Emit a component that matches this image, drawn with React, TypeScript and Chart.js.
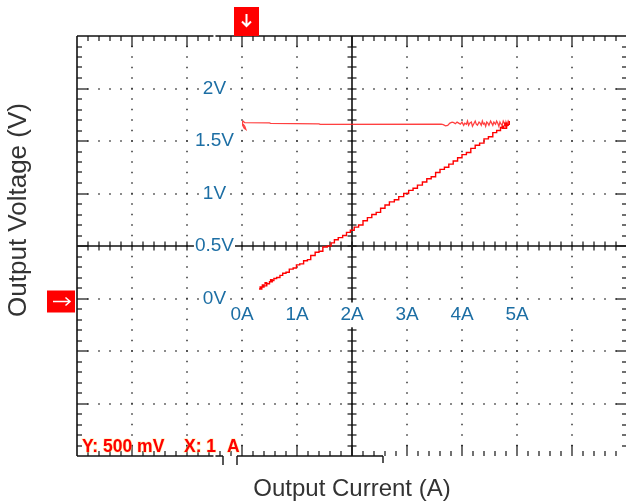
import React, { useEffect, useRef } from 'react';
import { Chart, registerables } from 'chart.js';

Chart.register(...registerables);

// Rising trace (output current in A, output voltage in V)
const riseCurrent = [0.31, 0.36, 0.33, 0.40, 0.37, 0.45, 0.42, 0.50, 0.55, 0.52, 0.58, 0.63, 0.69, 0.74, 0.80, 0.86, 0.93, 0.99, 1.05, 1.12, 1.19, 1.25, 1.33, 1.40, 1.47, 1.55, 1.62, 1.68, 1.75, 1.83, 1.90, 1.97, 2.04, 2.12, 2.20, 2.28, 2.36, 2.44, 2.52, 2.60, 2.68, 2.77, 2.85, 2.94, 3.03, 3.11, 3.19, 3.28, 3.36, 3.44, 3.52, 3.60, 3.68, 3.76, 3.84, 3.92, 4.00, 4.08, 4.16, 4.24, 4.32, 4.40, 4.48, 4.56, 4.63, 4.70, 4.76, 4.73, 4.81, 4.78, 4.84, 4.86];
const riseVoltage = [0.09, 0.10, 0.11, 0.13, 0.12, 0.15, 0.14, 0.16, 0.18, 0.17, 0.19, 0.20, 0.22, 0.24, 0.25, 0.28, 0.29, 0.32, 0.33, 0.36, 0.37, 0.41, 0.44, 0.45, 0.49, 0.50, 0.53, 0.56, 0.58, 0.60, 0.63, 0.65, 0.68, 0.70, 0.74, 0.77, 0.80, 0.82, 0.86, 0.89, 0.92, 0.94, 0.97, 1.00, 1.03, 1.05, 1.08, 1.11, 1.14, 1.16, 1.20, 1.23, 1.25, 1.28, 1.31, 1.34, 1.37, 1.39, 1.43, 1.46, 1.48, 1.52, 1.54, 1.58, 1.60, 1.63, 1.64, 1.62, 1.67, 1.65, 1.66, 1.69];

// Flat return trace
const flatCurrent = [4.86, 4.84, 4.82, 4.80, 4.79, 4.77, 4.75, 4.73, 4.71, 4.69, 4.67, 4.65, 4.63, 4.61, 4.58, 4.56, 4.54, 4.52, 4.49, 4.47, 4.45, 4.43, 4.41, 4.39, 4.37, 4.35, 4.33, 4.31, 4.28, 4.26, 4.24, 4.21, 4.19, 4.17, 4.14, 4.12, 4.10, 4.08, 4.05, 4.03, 4.00, 3.97, 3.94, 3.91, 3.88, 3.85, 3.82, 3.78, 3.74, 3.70, 3.66, 3.62, 1.42, 1.40, 0.52, 0.50, 0.05, 0.02, 0.00, 0.01, 0.04, 0.07, 0.05, 0.02];
const flatVoltage = [1.67, 1.69, 1.65, 1.68, 1.64, 1.67, 1.69, 1.65, 1.66, 1.68, 1.64, 1.67, 1.69, 1.66, 1.68, 1.65, 1.67, 1.69, 1.65, 1.67, 1.68, 1.64, 1.67, 1.66, 1.69, 1.65, 1.67, 1.68, 1.65, 1.66, 1.69, 1.66, 1.64, 1.68, 1.67, 1.65, 1.69, 1.66, 1.67, 1.65, 1.68, 1.66, 1.67, 1.68, 1.665, 1.675, 1.68, 1.67, 1.648, 1.645, 1.655, 1.660, 1.658, 1.663, 1.668, 1.672, 1.675, 1.69, 1.68, 1.65, 1.62, 1.61, 1.64, 1.66];

const xLabeledAmps = [0, 1, 2, 3, 4, 5];
const yLabeledVolts = [0, 0.5, 1, 1.5, 2];
const xMin = -3, xMax = 7, xDiv = 1;
const yMin = -1.5, yMax = 2.5, yDiv = 0.5;
const xCenter = 2, yCenter = 0.5;
const yScaleText = 'Y: 500 mV';
const xScaleText = 'X: 1';
const xUnitText = 'A';
const yTitle = 'Output Voltage (V)';
const xTitle = 'Output Current (A)';

const FONT = '"Liberation Sans", Arial, sans-serif';

const graticule = {
  id: 'graticule',
  beforeDraw(chart: any) {
    const { ctx, scales } = chart;
    const xs = scales.x, ys = scales.y;
    const left = xs.getPixelForValue(xMin), right = xs.getPixelForValue(xMax);
    const top = ys.getPixelForValue(yMax), bottom = ys.getPixelForValue(yMin);
    const nx = Math.round((xMax - xMin) / xDiv);
    const ny = Math.round((yMax - yMin) / yDiv);
    ctx.save();
    // dotted grid
    ctx.fillStyle = '#333';
    for (let i = 1; i < nx; i++) {
      const v = xMin + i * xDiv;
      if (Math.abs(v - xCenter) < 1e-9) continue;
      const px = Math.round(xs.getPixelForValue(v));
      for (let j = 1; j < ny * 5; j++) {
        const py = ys.getPixelForValue(yMin + (j * yDiv) / 5);
        ctx.fillRect(px - 0.75, py - 0.75, 1.5, 1.5);
      }
    }
    for (let j = 1; j < ny; j++) {
      const v = yMin + j * yDiv;
      if (Math.abs(v - yCenter) < 1e-9) continue;
      const py = Math.round(ys.getPixelForValue(v));
      for (let i = 1; i < nx * 5; i++) {
        const px = xs.getPixelForValue(xMin + (i * xDiv) / 5);
        ctx.fillRect(px - 0.75, py - 0.75, 1.5, 1.5);
      }
    }
    const line = (x1: number, y1: number, x2: number, y2: number) => {
      ctx.beginPath();
      ctx.moveTo(x1, y1);
      ctx.lineTo(x2, y2);
      ctx.stroke();
    };
    // center axes
    ctx.strokeStyle = '#111';
    ctx.lineWidth = 1.6;
    const cx = Math.round(xs.getPixelForValue(xCenter));
    const cy = Math.round(ys.getPixelForValue(yCenter));
    line(cx, top, cx, bottom);
    line(left, cy, right, cy);
    ctx.lineWidth = 1.2;
    for (let j = 1; j < ny * 5; j++) {
      const py = Math.round(ys.getPixelForValue(yMin + (j * yDiv) / 5));
      line(cx - 4.5, py, cx + 4.5, py);
    }
    for (let i = 1; i < nx * 5; i++) {
      const px = Math.round(xs.getPixelForValue(xMin + (i * xDiv) / 5));
      line(px, cy - 4.5, px, cy + 4.5);
    }
    // border
    ctx.lineWidth = 1.6;
    line(left, top, right, top);
    line(left, top, left, bottom);
    line(right, top, right, bottom);
    const w = right - left;
    const seg1 = left + w * (146 / 550);
    const seg2 = left + w * (160 / 550);
    const seg3 = left + w * (306 / 550);
    line(left, bottom, seg1, bottom);
    line(seg2, bottom, seg3, bottom);
    ctx.lineWidth = 1.4;
    line(seg1, bottom, seg1, bottom + 9);
    line(seg2, bottom, seg2, bottom + 9);
    line(seg3, bottom, seg3, bottom + 7);
    // border ticks
    ctx.lineWidth = 1.2;
    for (let i = 1; i < nx * 5; i++) {
      const px = Math.round(xs.getPixelForValue(xMin + (i * xDiv) / 5));
      const len = i % 5 === 0 ? 11 : 5;
      line(px, top, px, top + len);
      line(px, bottom, px, bottom - len);
    }
    for (let j = 1; j < ny * 5; j++) {
      const py = Math.round(ys.getPixelForValue(yMin + (j * yDiv) / 5));
      const len = j % 5 === 0 ? 11 : 5;
      line(left, py, left + len, py);
      line(right, py, right - len, py);
    }
    ctx.restore();
  },
  afterDraw(chart: any) {
    const { ctx, scales } = chart;
    const xs = scales.x, ys = scales.y;
    const left = xs.getPixelForValue(xMin);
    const top = ys.getPixelForValue(yMax), bottom = ys.getPixelForValue(yMin);
    ctx.save();
    // top marker (X reference)
    const x0 = xs.getPixelForValue(0);
    ctx.fillStyle = '#ff0000';
    ctx.fillRect(x0 - 8, top - 29, 25, 29);
    ctx.strokeStyle = '#fff';
    ctx.lineWidth = 2;
    const ax = x0 + 4.5;
    ctx.beginPath();
    ctx.moveTo(ax, top - 22);
    ctx.lineTo(ax, top - 10);
    ctx.moveTo(ax - 4.5, top - 14.5);
    ctx.lineTo(ax, top - 10);
    ctx.lineTo(ax + 4.5, top - 14.5);
    ctx.stroke();
    // left marker (Y reference)
    const y0 = ys.getPixelForValue(0);
    ctx.fillStyle = '#ff0000';
    ctx.fillRect(left - 30, y0 - 8, 28, 22);
    ctx.beginPath();
    const ay = y0 + 3;
    ctx.lineWidth = 1.5;
    ctx.moveTo(left - 24, ay);
    ctx.lineTo(left - 7, ay);
    ctx.moveTo(left - 11.5, ay - 4);
    ctx.lineTo(left - 7, ay);
    ctx.lineTo(left - 11.5, ay + 4);
    ctx.stroke();
    // scale note
    ctx.font = 'bold 17.5px ' + FONT;
    ctx.textBaseline = 'alphabetic';
    ctx.textAlign = 'left';
    ctx.lineWidth = 1.2;
    ctx.strokeStyle = 'rgba(255,225,110,0.55)';
    ctx.fillStyle = '#ff0000';
    const notes: [string, number][] = [[yScaleText, left + 5], [xScaleText, left + 107], [xUnitText, left + 150]];
    for (const [t, px] of notes) {
      ctx.strokeText(t, px, bottom - 4);
      ctx.fillText(t, px, bottom - 4);
    }
    // axis titles
    ctx.fillStyle = '#333';
    ctx.font = '24px ' + FONT;
    ctx.textAlign = 'center';
    ctx.textBaseline = 'middle';
    ctx.fillText(xTitle, 352, 489);
    ctx.translate(19, 210);
    ctx.rotate(-Math.PI / 2);
    ctx.font = '26px ' + FONT;
    ctx.fillText(yTitle, 0, 0);
    ctx.restore();
  },
};

export default function App() {
  const ref = useRef<HTMLCanvasElement | null>(null);
  useEffect(() => {
    if (!ref.current) return;
    const rise = riseCurrent.map((c, i) => ({ x: c, y: riseVoltage[i] }));
    const flat = flatCurrent.map((c, i) => ({ x: c, y: flatVoltage[i] }));
    const chart = new Chart(ref.current, {
      type: 'scatter',
      data: {
        datasets: [
          { data: rise, showLine: true, borderColor: '#ff0000', borderWidth: 1.4, pointRadius: 0, stepped: true } as any,
          { data: flat, showLine: true, borderColor: 'rgba(255,30,30,0.85)', borderWidth: 1.3, pointRadius: 0 } as any,
        ],
      },
      options: {
        animation: false,
        responsive: false,
        events: [],
        // plot region: the y label column sits left of the 0 A line; the graticule extends to xMin
        layout: { padding: { left: 182, top: 36, right: 13, bottom: 46 } },
        plugins: { legend: { display: false }, tooltip: { enabled: false } },
        scales: {
          x: {
            type: 'linear',
            min: 0,
            max: xMax,
            position: { y: 0 } as any,
            grid: { display: false, drawTicks: false },
            border: { display: false },
            ticks: {
              stepSize: xDiv,
              autoSkip: false,
              maxRotation: 0,
              padding: 5,
              color: '#1c6ea4',
              font: { family: FONT, size: 19 },
              showLabelBackdrop: true,
              backdropColor: '#ffffff',
              backdropPadding: 1,
              callback: (v: any) => (xLabeledAmps.includes(Number(v)) ? `${v}A` : ''),
            } as any,
          },
          y: {
            type: 'linear',
            min: yMin,
            max: yMax,
            position: 'left',
            afterFit: (scale: any) => { scale.width = 60; },
            grid: { display: false, drawTicks: false },
            border: { display: false },
            ticks: {
              stepSize: yDiv,
              autoSkip: false,
              padding: 8,
              crossAlign: 'center',
              color: '#1c6ea4',
              font: { family: FONT, size: 19 },
              showLabelBackdrop: true,
              backdropColor: '#ffffff',
              backdropPadding: 1,
              callback: (v: any) => (yLabeledVolts.includes(Number(v)) ? `${v}V` : ''),
            } as any,
          },
        },
      },
      plugins: [graticule],
    });
    return () => chart.destroy();
  }, []);
  return (
    <div style={{ position: 'fixed', left: 0, top: 0, width: 626, height: 502, overflow: 'hidden', background: '#fff' }}>
      <canvas ref={ref} width={640} height={502} style={{ display: 'block', width: 640, height: 502 }} />
    </div>
  );
}
